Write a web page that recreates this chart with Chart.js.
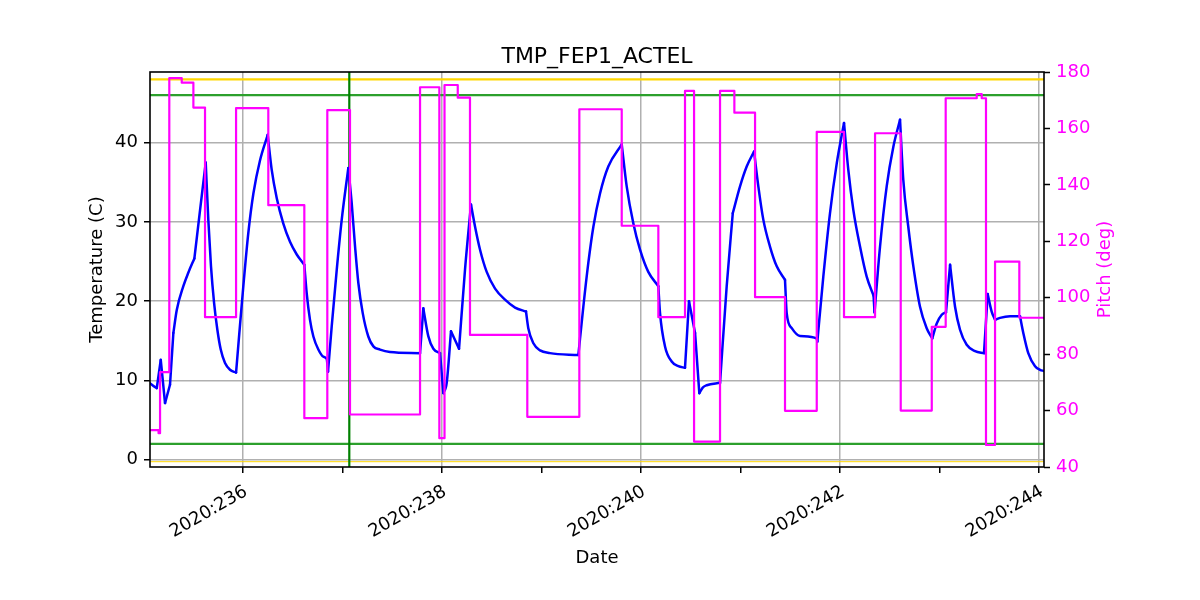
<!DOCTYPE html>
<html>
<head>
<meta charset="utf-8">
<script src="https://cdn.jsdelivr.net/npm/chart.js@4/dist/chart.umd.min.js"></script>
<style>
  html, body { margin: 0; padding: 0; background: #fff; }
  #c { display: block; }
</style>
</head>
<body>
<canvas id="c" width="1200" height="600"></canvas>
<script>
// ---- Data (day of year 2020, fractional) ----
const tempDays = [235.065,235.100,235.133,235.173,235.216,235.266,235.300,235.334,235.400,235.450,235.511,235.568,235.625,235.651,235.678,235.709,235.742,235.776,235.819,235.869,235.930,235.963,236.003,236.053,236.104,236.171,236.248,236.288,236.339,236.405,236.472,236.540,236.616,236.640,236.673,236.707,236.757,236.807,236.841,236.854,236.891,236.942,236.992,237.058,237.092,237.126,237.159,237.203,237.259,237.310,237.377,237.477,237.779,237.812,237.862,237.913,237.980,238.013,238.047,238.090,238.171,238.231,238.291,238.332,238.382,238.449,238.533,238.633,238.734,238.844,238.867,238.918,238.985,239.085,239.370,239.420,239.470,239.521,239.588,239.671,239.806,239.856,239.923,239.990,240.073,240.174,240.191,240.241,240.308,240.375,240.442,240.482,240.543,240.586,240.620,240.660,240.794,240.861,240.922,240.995,241.062,241.136,241.179,241.229,241.296,241.364,241.447,241.464,241.515,241.598,241.766,241.772,241.832,241.899,241.967,242.040,242.083,242.134,242.201,242.268,242.337,242.347,242.402,242.469,242.536,242.603,242.636,242.686,242.737,242.804,242.871,242.927,242.972,243.022,243.065,243.106,243.156,243.206,243.273,243.357,243.447,243.484,243.524,243.558,243.608,243.709,243.809,243.842,243.892,243.960,244.010,244.050];
const tempValues = [9.67,9.3,9.04,12.6,7.15,9.46,16.0,18.9,21.9,23.6,25.4,31.5,37.5,30.3,24.4,19.8,16.4,13.9,12.2,11.35,11.0,16.0,21.9,28.6,33.6,37.8,41.0,36.6,33.0,29.8,27.5,25.9,24.6,21.0,17.65,15.55,13.9,13.0,12.7,11.1,16.8,24.0,30.3,36.8,32.4,26.9,22.3,18.5,15.55,14.3,13.9,13.6,13.45,19.1,15.6,14.0,13.45,8.4,9.7,16.2,14.0,24.0,32.2,29.4,26.5,23.7,21.6,20.2,19.2,18.7,16.6,14.7,13.8,13.45,13.2,19.3,24.8,29.4,33.6,37.0,39.8,34.5,29.8,26.5,23.7,21.9,18.5,14.3,12.4,11.8,11.6,20.0,16.0,8.4,9.1,9.4,9.7,21.9,31.1,34.5,37.0,38.9,34.5,30.3,26.9,24.4,22.7,18.5,16.6,15.6,15.3,14.9,23.1,31.1,37.4,42.5,36.6,31.5,26.9,23.1,20.7,18.6,26.9,34.5,39.5,42.9,35.3,29.4,24.4,19.3,16.6,15.3,17.2,18.3,18.6,24.6,19.3,16.4,14.5,13.7,13.45,20.9,18.7,17.65,17.9,18.1,18.1,16.0,13.45,11.8,11.35,11.2];
// Days where the temperature curve has a sharp corner (peaks, dips, kinks)
const tempCornerDays = [235.133,235.173,235.216,235.266,235.300,235.511,235.625,235.930,236.248,236.616,236.854,237.058,237.779,237.812,237.980,238.013,238.090,238.171,238.291,238.844,239.370,239.806,240.174,240.442,240.482,240.543,240.586,240.794,240.922,241.136,241.447,241.772,242.040,242.337,242.347,242.603,242.927,243.065,243.106,243.447,243.484,243.558,243.809];

// Pitch: each value holds from its start day until the next start day
const pitchDays = [235.065,235.151,235.166,235.259,235.384,235.501,235.618,235.930,236.254,236.616,236.847,237.075,237.779,237.973,238.025,238.158,238.281,238.857,239.380,239.806,240.174,240.442,240.533,240.794,240.938,241.146,241.447,241.766,242.040,242.352,242.610,242.922,243.062,243.374,243.424,243.467,243.558,243.802,244.050];
const pitchValues = [53.1,52.0,73.6,177.8,176.2,167.4,93.1,167.2,132.8,57.3,166.5,58.6,174.6,50.2,175.4,170.9,86.8,57.8,166.8,125.5,93.1,173.3,49.0,173.3,165.6,100.2,59.9,158.8,93.1,158.3,60.0,89.7,170.7,172.2,170.7,47.8,112.8,92.9,92.9];

const xTickDays = [236, 238, 240, 242, 244];
const xTickLabels = ['2020:236', '2020:238', '2020:240', '2020:242', '2020:244'];
const xRange = [235.065, 244.05];
const tempRange = [-0.92, 48.93];
const pitchRange = [40, 180];

const yellowLimits = [48, -0.25];
const greenLimits = [46, 2];
const markerDay = 237.068;

const FONT = "'DejaVu Sans', 'Liberation Sans', sans-serif";

function pts(xs, ys) { return xs.map((x, i) => ({x: x, y: ys[i]})); }
function hline(v) { return [{x: xRange[0], y: v}, {x: xRange[1], y: v}]; }

// Temperature drawn as smooth pieces joined at the sharp corners
const tempPoints = pts(tempDays, tempValues);
const cornerIdx = [0].concat(tempCornerDays.map(d => tempDays.indexOf(d)).filter(i => i > 0), [tempDays.length - 1])
  .filter((v, i, arr) => arr.indexOf(v) === i).sort((a, b) => a - b);
const tempSets = [];
for (let k = 0; k < cornerIdx.length - 1; k++) {
  tempSets.push({
    label: 'TMP_FEP1_ACTEL',
    data: tempPoints.slice(cornerIdx[k], cornerIdx[k + 1] + 1),
    yAxisID: 'y', borderColor: '#0000ff', borderWidth: 2.5,
    cubicInterpolationMode: 'monotone', borderCapStyle: 'round', borderJoinStyle: 'round',
    pointRadius: 0, fill: false
  });
}

const datasets = [
  { label: 'Pitch', data: pts(pitchDays, pitchValues), yAxisID: 'y2', borderColor: '#ff00ff', borderWidth: 2.2, stepped: true, pointRadius: 0, fill: false }
].concat(tempSets, [
  { label: 'marker', data: [{x: markerDay, y: tempRange[0]}, {x: markerDay, y: tempRange[1]}], yAxisID: 'y', borderColor: '#008000', borderWidth: 2.2, pointRadius: 0 },
  { label: 'yellow hi', data: hline(yellowLimits[0]), yAxisID: 'y', borderColor: '#ffd700', borderWidth: 2.2, pointRadius: 0 },
  { label: 'yellow lo', data: hline(yellowLimits[1]), yAxisID: 'y', borderColor: '#ffd700', borderWidth: 1, pointRadius: 0 },
  { label: 'green hi', data: hline(greenLimits[0]), yAxisID: 'y', borderColor: '#2ca02c', borderWidth: 2.2, pointRadius: 0 },
  { label: 'green lo', data: hline(greenLimits[1]), yAxisID: 'y', borderColor: '#2ca02c', borderWidth: 2.2, pointRadius: 0 }
]);

const textPlugin = {
  id: 'texts',
  afterDraw(chart) {
    const ctx = chart.ctx;
    const a = chart.chartArea;
    ctx.save();
    ctx.strokeStyle = '#000';
    ctx.lineWidth = 1.6;
    ctx.strokeRect(a.left, a.top, a.right - a.left, a.bottom - a.top);
    const cx = (a.left + a.right) / 2;
    const cy = (a.top + a.bottom) / 2;
    ctx.fillStyle = '#000';
    ctx.textAlign = 'center';
    ctx.textBaseline = 'middle';
    ctx.font = '22px ' + FONT;
    ctx.fillText('TMP_FEP1_ACTEL', cx, 57);
    ctx.font = '18px ' + FONT;
    ctx.fillText('Date', cx, 558);
    ctx.save();
    ctx.translate(97, cy);
    ctx.rotate(-Math.PI / 2);
    ctx.fillText('Temperature (C)', 0, 0);
    ctx.restore();
    ctx.save();
    ctx.translate(1105, cy);
    ctx.rotate(-Math.PI / 2);
    ctx.fillStyle = '#ff00ff';
    ctx.fillText('Pitch (deg)', 0, 0);
    ctx.restore();
    ctx.restore();
  }
};

new Chart(document.getElementById('c'), {
  type: 'line',
  data: { datasets: datasets },
  plugins: [textPlugin],
  options: {
    responsive: false,
    animation: false,
    devicePixelRatio: 1,
    layout: { padding: { top: 72, left: 0, right: 0, bottom: 0 } },
    plugins: { legend: { display: false }, title: { display: false }, tooltip: { enabled: false } },
    elements: { line: { borderCapStyle: 'butt', borderJoinStyle: 'round' } },
    scales: {
      x: {
        type: 'linear',
        position: 'bottom',
        min: xRange[0],
        max: xRange[1],
        afterFit: s => { s.height = 133; },
        border: { display: false },
        grid: {
          color: c => (c.tick && xTickDays.includes(c.tick.value)) ? '#b0b0b0' : 'rgba(0,0,0,0)',
          lineWidth: 1.5,
          tickColor: '#000',
          tickLength: 6,
          tickWidth: 1.5
        },
        ticks: {
          stepSize: 1,
          includeBounds: false,
          autoSkip: false,
          minRotation: 30,
          maxRotation: 30,
          padding: 8,
          labelOffset: 3,
          color: '#000',
          font: { family: FONT, size: 18 },
          callback: v => { const i = xTickDays.indexOf(v); return i >= 0 ? xTickLabels[i] : ''; }
        }
      },
      y: {
        type: 'linear',
        position: 'left',
        min: tempRange[0],
        max: tempRange[1],
        afterFit: s => { s.width = 150; },
        border: { display: false },
        grid: { color: '#b0b0b0', lineWidth: 1.5, tickColor: '#000', tickLength: 6, tickWidth: 1.5 },
        ticks: { stepSize: 10, includeBounds: false, padding: 6, color: '#000', font: { family: FONT, size: 18 } }
      },
      y2: {
        type: 'linear',
        position: 'right',
        min: pitchRange[0],
        max: pitchRange[1],
        afterFit: s => { s.width = 156; },
        border: { display: false },
        grid: { drawOnChartArea: false, tickColor: '#000', tickLength: 6, tickWidth: 1.5 },
        ticks: { stepSize: 20, padding: 6, color: '#ff00ff', font: { family: FONT, size: 18 } }
      }
    }
  }
});
</script>
</body>
</html>
